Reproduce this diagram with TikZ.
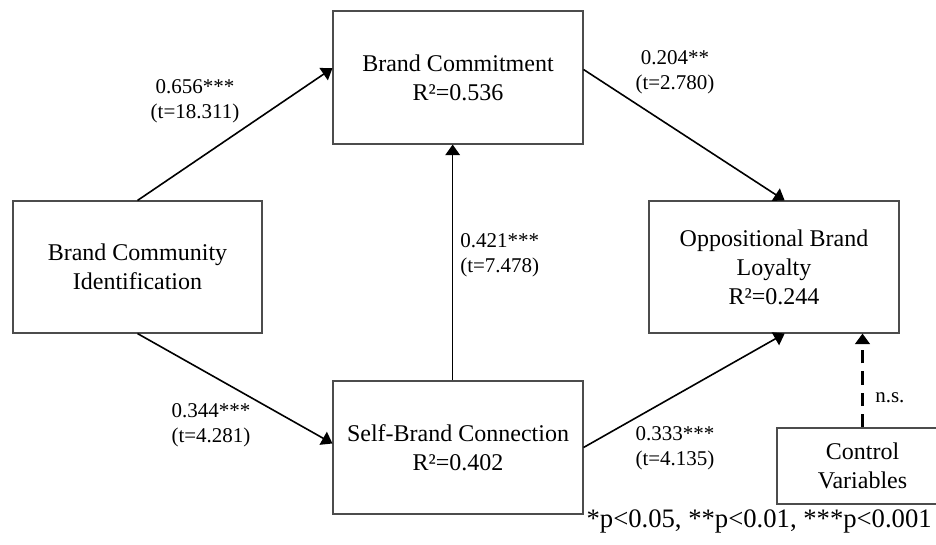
\documentclass[tikz,border=0pt]{standalone}
\usepackage{fontspec}
\setmainfont{Liberation Serif}
\usetikzlibrary{arrows.meta}

\begin{document}
\begin{tikzpicture}[x=0.75pt,y=-0.75pt,>={Triangle[length=8pt,width=11pt]}]
    \tikzstyle{construct}=[rectangle,draw=black!70,line width=0.8pt,minimum width=187.5pt,minimum height=99.75pt,inner sep=0pt,align=center,font=\fontsize{18}{21.75}\selectfont]
    \tikzstyle{control}=[construct,minimum width=128.25pt,minimum height=57pt]
    \tikzstyle{effect}=[->,draw=black,line width=1.2pt]
    \tikzstyle{coef}=[inner sep=0pt,align=center,font=\fontsize{15.75}{18.75}\selectfont]

    \useasboundingbox (0,0) rectangle (936,544);

    % Draw the constructs
    \node[construct,minimum width=186.75pt,minimum height=99pt] (bci) at (137.5,267) {Brand Community\\Identification};
    \node[construct] (bc) at (458,77.5) {Brand Commitment\\R²=0.536};
    \node[construct] (sbc) at (458,447.5) {Self-Brand Connection\\R²=0.402};
    \node[construct,minimum height=99pt] (obl) at (774,267) {Oppositional Brand\\Loyalty\\R²=0.244};
    \node[control] (cv) at (862.5,466) {Control\\Variables};

    % Draw the paths between constructs
    \draw[effect] (bci.north) -- ([yshift=7pt]bc.west);
    \draw[effect] (bci.south) -- ([yshift=3pt]sbc.west);
    \draw[effect] ([xshift=-4pt]sbc.north) -- ([xshift=-4pt]bc.south);
    \draw[effect] ([yshift=6pt]bc.east) -- ([xshift=8pt]obl.north);
    \draw[effect] (sbc.east) -- ([xshift=8pt]obl.south);
    \draw[effect,line width=2.2pt,dash pattern=on 10pt off 6pt] (cv.north) -- (cv.north |- obl.south);

    % Annotate the paths
    \foreach \name/\x/\y/\txt in {c1/195/101/{0.656***\\(t=18.311)},c2/675/72/{0.204**\\(t=2.780)},c3/211/425/{0.344***\\(t=4.281)},c4/675/448/{0.333***\\(t=4.135)}}
        \node[coef] (\name) at (\x,\y) {\txt};
    \node[coef,anchor=west,align=left] (c5) at (460,255) {0.421***\\(t=7.478)};
    \node[coef,anchor=west] (ns) at (875,398) {n.s.};

    % Significance levels
    \node[anchor=east,inner sep=0pt,font=\fontsize{20}{24}\selectfont] (note) at (932,521) {*p<0.05, **p<0.01, ***p<0.001};
\end{tikzpicture}
\end{document}
